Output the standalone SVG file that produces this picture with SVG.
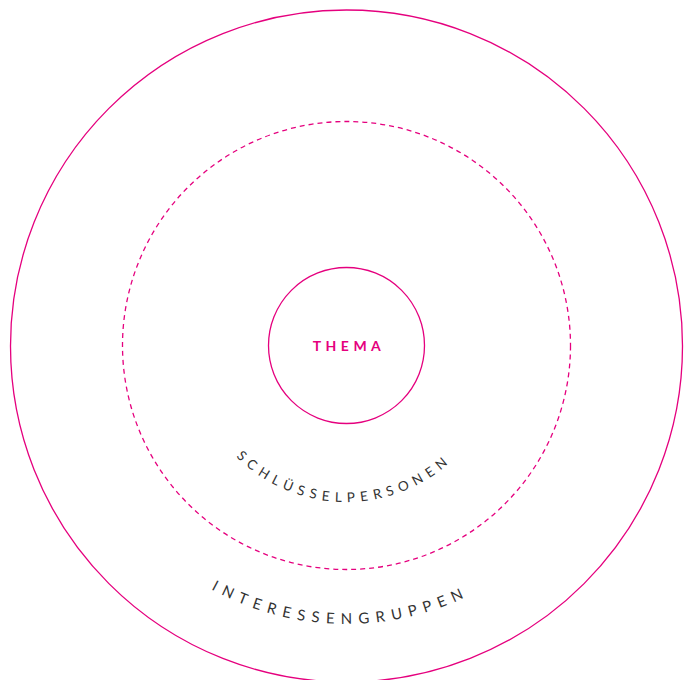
<svg xmlns="http://www.w3.org/2000/svg" width="691" height="680" viewBox="0 0 691 680">
<style>
.ring{fill:none;stroke:#e5007e;stroke-width:1.3}
.dash{stroke-dasharray:5 4}
.lbl{font-family:Lato,"Open Sans","Liberation Sans",sans-serif;fill:#333;}
.core{font-family:Lato,"Open Sans","Liberation Sans",sans-serif;fill:#e5007e;font-weight:bold;font-size:14px;letter-spacing:4.5px}
</style>
<defs>
<path id="arcKey" d="M 190 346 A 156 156 0 0 0 502 346"/>
<path id="arcInt" d="M 68 346 A 278 278 0 0 0 624 346"/>
</defs>
<rect width="691" height="680" fill="#fff"/>
<g id="interessengruppen">
<circle class="ring" cx="346.5" cy="346" r="336"/>
<text class="lbl" font-size="15" letter-spacing="6.6"><textPath href="#arcInt" startOffset="49.3%" text-anchor="middle">INTERESSENGRUPPEN</textPath></text>
</g>
<g id="schluesselpersonen">
<circle class="ring dash" cx="346.5" cy="345.5" r="224"/>
<text class="lbl" font-size="13.5" letter-spacing="5.6"><textPath href="#arcKey" startOffset="49.5%" text-anchor="middle">SCHLÜSSELPERSONEN</textPath></text>
</g>
<g id="thema">
<circle class="ring" cx="346.5" cy="345.5" r="78"/>
<text class="core" x="349" y="351" text-anchor="middle">THEMA</text>
</g>
</svg>
